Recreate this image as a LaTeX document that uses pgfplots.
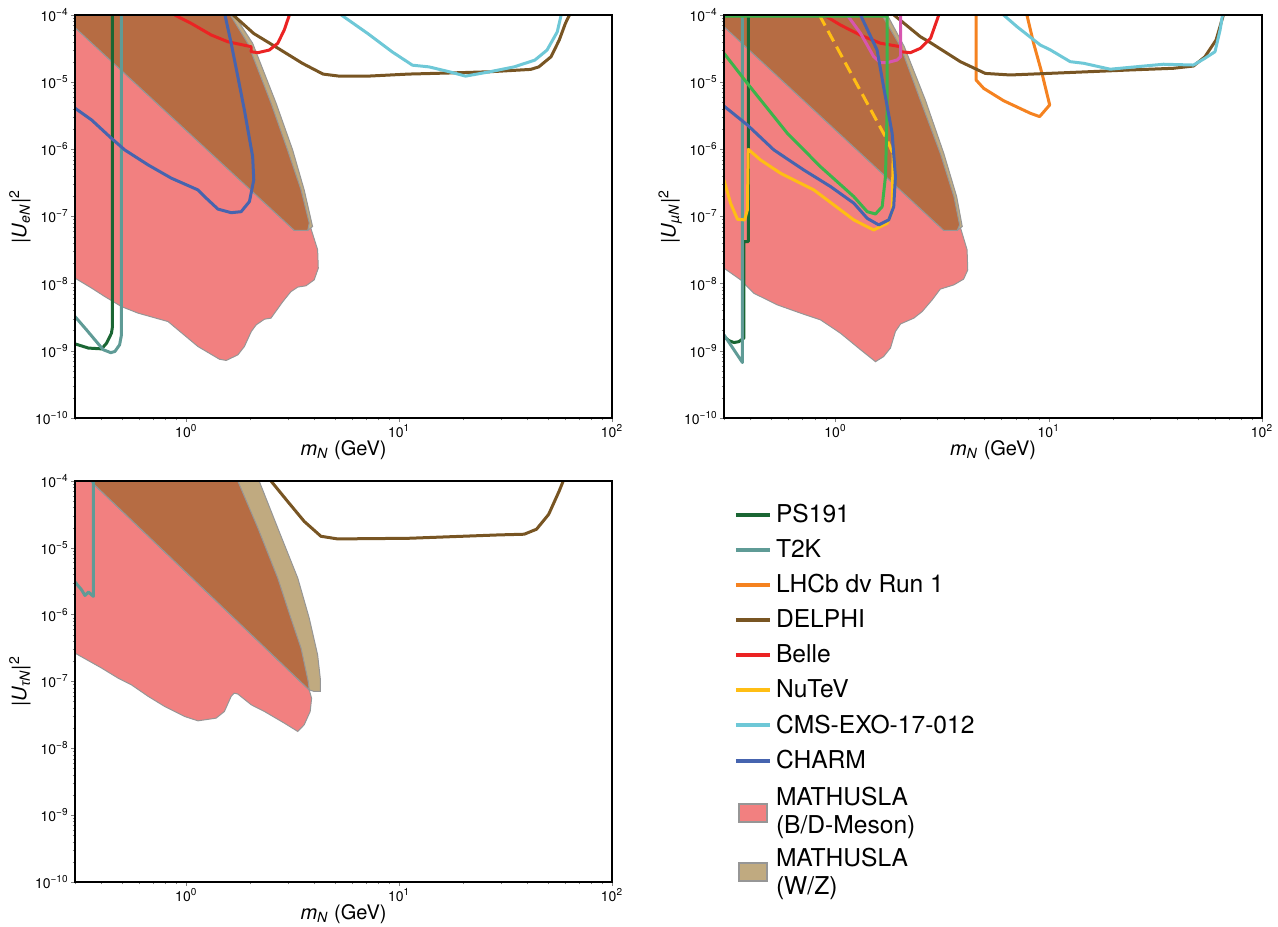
\documentclass[border=0pt]{standalone}
\usepackage{pgfplots}
\pgfplotsset{compat=1.18}
\usepackage{fontspec}
\setmainfont{TeX Gyre Heros}
\newfontfamily\gk{Liberation Sans}
\definecolor{ps191}{RGB}{26,102,51}
\definecolor{t2k}{RGB}{95,155,150}
\definecolor{lhcb}{RGB}{245,130,32}
\definecolor{delphi}{RGB}{120,85,35}
\definecolor{belle}{RGB}{235,35,35}
\definecolor{nutev}{RGB}{255,190,20}
\definecolor{cms}{RGB}{110,200,215}
\definecolor{charm}{RGB}{70,100,175}
\definecolor{grn}{RGB}{60,180,75}
\definecolor{mag}{RGB}{215,85,175}
\definecolor{bdpink}{RGB}{242,128,128}
\definecolor{wztan}{RGB}{192,170,128}
\definecolor{ovbrown}{RGB}{182,108,67}
\definecolor{edgegray}{RGB}{150,150,150}
\tikzset{
  myline/.style={line width=1.5pt, line join=round},
  legline/.style={line width=2pt},
  myshade/.style={draw=edgegray, line width=0.5pt},
}
\begin{document}
\begin{tikzpicture}
\useasboundingbox (0,0) rectangle (639pt,-463pt);
% ---------------- Panel 1: electron ----------------
\begin{axis}[xmode=log, ymode=log, xmin=0.3, xmax=100, ymin=1e-10, ymax=1e-4,
    scale only axis, width=268.5pt, height=201.5pt,
    axis on top, tick pos=left, tick align=outside,
    major tick length=2pt, minor tick length=1.2pt,
    axis line style={line width=0.6pt},
    xtick={1,10,100},
    xticklabels={10\textsuperscript{0},10\textsuperscript{1},10\textsuperscript{2}},
    minor xtick={0.3,0.4,0.5,0.6,0.7,0.8,0.9,2,3,4,5,6,7,8,9,20,30,40,50,60,70,80,90},
    ytick={1e-10,1e-9,1e-8,1e-7,1e-6,1e-5,1e-4},
    yticklabels={10\textsuperscript{−10},10\textsuperscript{−9},10\textsuperscript{−8},10\textsuperscript{−7},10\textsuperscript{−6},10\textsuperscript{−5},10\textsuperscript{−4}},
    minor ytick={2e-10,3e-10,4e-10,5e-10,6e-10,7e-10,8e-10,9e-10,2e-9,3e-9,4e-9,5e-9,6e-9,7e-9,8e-9,9e-9,2e-8,3e-8,4e-8,5e-8,6e-8,7e-8,8e-8,9e-8,2e-7,3e-7,4e-7,5e-7,6e-7,7e-7,8e-7,9e-7,2e-6,3e-6,4e-6,5e-6,6e-6,7e-6,8e-6,9e-6,2e-5,3e-5,4e-5,5e-5,6e-5,7e-5,8e-5,9e-5},
    tick label style={font=\fontsize{7}{8}\selectfont, inner sep=1pt},
    label style={font=\fontsize{10}{12}\selectfont},
    xlabel={\textit{m}\textsubscript{\textit{N}} (GeV)},
    xlabel style={at={(axis description cs:0.5,-0.079)}, anchor=center},
    ylabel style={at={(axis description cs:-0.1024,0.5)}, anchor=center},
    at={(37.5pt,-7.5pt)}, anchor=north west,
    ylabel={|\textit{U}\textsubscript{\textit{eN}}|\textsuperscript{2}}]
\addplot[myshade, fill=bdpink] coordinates {(0.3,1e-4) (1.61,1e-4) (1.945,3.8e-5) (2.50,4.9e-6) (2.99,9.8e-7) (3.46,2.49e-7) (3.78,8.0e-8) (4.14,3.2e-8) (4.17,1.70e-8) (3.99,1.14e-8) (3.65,9.3e-9) (3.34,8.9e-9) (3.10,7.6e-9) (2.84,5.4e-9) (2.50,3.07e-9) (2.33,2.96e-9) (2.13,2.44e-9) (2.02,1.94e-9) (1.875,1.16e-9) (1.746,8.7e-10) (1.54,7.2e-10) (1.432,7.5e-10) (1.134,1.16e-9) (0.821,2.73e-9) (0.594,3.64e-9) (0.496,4.56e-9) (0.414,6.43e-9) (0.359,8.6e-9) (0.3,1.21e-8)} -- cycle;
\addplot[myshade, fill=wztan] coordinates {(1.68,1e-4) (2.05,3.8e-5) (2.64,4.9e-6) (3.16,9.8e-7) (3.58,2.49e-7) (3.92,7.1e-8) (3.72,6.2e-8) (3.22,6.2e-8) (0.3,6.5e-5) (0.3,1e-4)} -- cycle;
\addplot[myshade, fill=ovbrown] coordinates {(0.3,1e-4) (1.61,1e-4) (1.945,3.8e-5) (2.50,4.9e-6) (2.99,9.8e-7) (3.46,2.49e-7) (3.78,8.0e-8) (3.72,6.2e-8) (3.22,6.2e-8) (0.3,6.5e-5)} -- cycle;
\addplot[myline, ps191] coordinates {(0.3,1.27e-9) (0.347,1.10e-9) (0.400,1.07e-9) (0.422,1.30e-9) (0.445,1.83e-9) (0.450,2.30e-9) (0.450,1e-4)};
\addplot[myline, t2k] coordinates {(0.3,3.24e-9) (0.340,2.05e-9) (0.372,1.46e-9) (0.407,1.04e-9) (0.442,9.4e-10) (0.462,9.8e-10) (0.486,1.23e-9) (0.496,1.73e-9) (0.496,1e-4)};
\addplot[myline, delphi] coordinates {(1.66,1e-4) (2.075,5.3e-5) (2.70,3.19e-5) (3.52,1.90e-5) (4.39,1.32e-5) (5.23,1.23e-5) (7.12,1.23e-5) (11.06,1.32e-5) (17.2,1.37e-5) (26.7,1.43e-5) (41.5,1.55e-5) (45.3,1.69e-5) (51.7,2.39e-5) (56.5,4.23e-5) (60.4,7.5e-5) (63.1,1e-4)};
\addplot[myline, belle] coordinates {(0.882,1e-4) (1.055,7.5e-5) (1.31,5.04e-5) (1.567,4.0e-5) (1.945,3.46e-5) (2.016,3.37e-5) (2.016,2.84e-5) (2.17,2.75e-5) (2.455,3.01e-5) (2.69,3.8e-5) (2.885,5.98e-5) (3.05,1e-4)};
\addplot[myline, cms] coordinates {(5.35,1e-4) (7.12,5.3e-5) (9.27,2.83e-5) (11.55,1.79e-5) (13.8,1.69e-5) (17.2,1.43e-5) (20.5,1.23e-5) (26.7,1.43e-5) (34.7,1.69e-5) (43.4,2.13e-5) (49.5,3.0e-5) (55.3,5.6e-5) (57.7,1e-4)};
\addplot[myline, charm] coordinates {(0.3,4.1e-6) (0.359,2.74e-6) (0.445,1.46e-6) (0.514,9.8e-7) (0.662,5.86e-7) (0.851,3.72e-7) (1.134,2.49e-7) (1.218,1.98e-7) (1.408,1.29e-7) (1.625,1.14e-7) (1.81,1.18e-7) (1.98,1.67e-7) (2.075,3.51e-7) (2.05,7.8e-7) (1.875,3.85e-6) (1.746,1.21e-5) (1.625,3.8e-5) (1.52,1e-4)};
\end{axis}
% ---------------- Panel 2: muon ----------------
\begin{axis}[xmode=log, ymode=log, xmin=0.3, xmax=100, ymin=1e-10, ymax=1e-4,
    scale only axis, width=269pt, height=201.5pt,
    axis on top, tick pos=left, tick align=outside,
    major tick length=2pt, minor tick length=1.2pt,
    axis line style={line width=0.6pt},
    xtick={1,10,100},
    xticklabels={10\textsuperscript{0},10\textsuperscript{1},10\textsuperscript{2}},
    minor xtick={0.3,0.4,0.5,0.6,0.7,0.8,0.9,2,3,4,5,6,7,8,9,20,30,40,50,60,70,80,90},
    ytick={1e-10,1e-9,1e-8,1e-7,1e-6,1e-5,1e-4},
    yticklabels={10\textsuperscript{−10},10\textsuperscript{−9},10\textsuperscript{−8},10\textsuperscript{−7},10\textsuperscript{−6},10\textsuperscript{−5},10\textsuperscript{−4}},
    minor ytick={2e-10,3e-10,4e-10,5e-10,6e-10,7e-10,8e-10,9e-10,2e-9,3e-9,4e-9,5e-9,6e-9,7e-9,8e-9,9e-9,2e-8,3e-8,4e-8,5e-8,6e-8,7e-8,8e-8,9e-8,2e-7,3e-7,4e-7,5e-7,6e-7,7e-7,8e-7,9e-7,2e-6,3e-6,4e-6,5e-6,6e-6,7e-6,8e-6,9e-6,2e-5,3e-5,4e-5,5e-5,6e-5,7e-5,8e-5,9e-5},
    tick label style={font=\fontsize{7}{8}\selectfont, inner sep=1pt},
    label style={font=\fontsize{10}{12}\selectfont},
    xlabel={\textit{m}\textsubscript{\textit{N}} (GeV)},
    xlabel style={at={(axis description cs:0.5,-0.079)}, anchor=center},
    ylabel style={at={(axis description cs:-0.1,0.5)}, anchor=center},
    at={(362pt,-7.5pt)}, anchor=north west,
    ylabel={|\textit{U}\textsubscript{\textit{µN}}|\textsuperscript{2}}]
\addplot[myshade, fill=bdpink] coordinates {(0.3,1e-4) (1.65,1e-4) (2.02,3.37e-5) (2.50,5.4e-6) (3.10,8.7e-7) (3.59,1.98e-7) (3.82,7.5e-8) (4.14,3.2e-8) (4.17,1.60e-8) (3.99,1.17e-8) (3.59,9.6e-9) (3.10,8.3e-9) (2.84,5.74e-9) (2.55,3.85e-9) (2.33,3.07e-9) (2.02,2.52e-9) (1.91,1.94e-9) (1.81,1.10e-9) (1.68,8.2e-10) (1.54,6.9e-10) (1.31,1.04e-9) (1.055,1.83e-9) (0.851,2.89e-9) (0.686,3.64e-9) (0.533,4.84e-9) (0.414,7.2e-9) (0.359,1.14e-8) (0.3,1.70e-8)} -- cycle;
\addplot[myshade, fill=wztan] coordinates {(1.75,1e-4) (2.10,3.4e-5) (2.64,5.4e-6) (3.22,8.7e-7) (3.70,1.98e-7) (3.93,7.1e-8) (3.72,6.2e-8) (3.22,6.2e-8) (0.3,6.7e-5) (0.3,1e-4)} -- cycle;
\addplot[myshade, fill=ovbrown] coordinates {(0.3,1e-4) (1.65,1e-4) (2.02,3.37e-5) (2.50,5.4e-6) (3.10,8.7e-7) (3.59,1.98e-7) (3.82,7.5e-8) (3.72,6.2e-8) (3.22,6.2e-8) (0.3,6.7e-5)} -- cycle;
\addplot[myline, ps191] coordinates {(0.3,1.63e-9) (0.316,1.42e-9) (0.334,1.33e-9) (0.352,1.37e-9) (0.372,1.55e-9) (0.372,4.24e-8) (0.390,4.24e-8) (0.390,1e-4)};
\addplot[myline, t2k] coordinates {(0.3,1.73e-9) (0.366,6.7e-10) (0.366,1e-4)};
\addplot[myline, lhcb] coordinates {(4.56,1e-4) (4.56,1.08e-5) (4.95,8.1e-6) (6.14,5.3e-6) (8.19,3.45e-6) (9.06,3.07e-6) (10.1,4.58e-6) (9.29,1.36e-5) (8.49,3.8e-5) (7.9,1e-4)};
\addplot[myline, delphi] coordinates {(1.88,1e-4) (2.50,4.75e-5) (2.79,3.87e-5) (3.85,2.02e-5) (5.04,1.35e-5) (6.6,1.28e-5) (11.7,1.38e-5) (24.1,1.52e-5) (38.4,1.61e-5) (47.7,1.74e-5) (54,2.39e-5) (60.9,4.25e-5) (65.9,1e-4)};
\addplot[myline, belle] coordinates {(0.882,1e-4) (1.055,7.1e-5) (1.31,5.0e-5) (1.625,3.8e-5) (2.02,3.37e-5) (2.02,2.84e-5) (2.245,2.75e-5) (2.50,3.19e-5) (2.79,4.5e-5) (3.05,1e-4)};
\addplot[myline, mag] coordinates {(1.134,1e-4) (1.31,5.35e-5) (1.51,2.40e-5) (1.625,1.95e-5) (1.746,1.95e-5) (1.945,2.14e-5) (2.02,2.40e-5) (2.02,1e-4)};
\addplot[myline, nutev] coordinates {(0.3,3.5e-7) (0.322,1.58e-7) (0.347,9.1e-8) (0.375,8.9e-8) (0.386,1.25e-7) (0.390,1.0e-6) (0.445,6.95e-7) (0.553,4.4e-7) (0.791,2.49e-7) (0.982,1.49e-7) (1.218,8.9e-8) (1.51,6.3e-8) (1.746,7.9e-8) (1.843,1.18e-7) (1.864,8.7e-7)};
\addplot[myline, nutev, dash pattern=on 6pt off 3pt] coordinates {(0.84,1e-4) (1.746,1.38e-6) (1.85,9e-7)};
\addplot[myline, cms] coordinates {(6.14,1e-4) (7.10,6.7e-5) (9.12,3.58e-5) (10.2,3.01e-5) (12.6,2.02e-5) (14.6,1.91e-5) (19.4,1.56e-5) (25.9,1.70e-5) (34.5,1.85e-5) (47.7,1.80e-5) (54.0,2.27e-5) (60.2,2.84e-5) (63.6,6.0e-5) (65.3,1e-4)};
\addplot[myline, grn] coordinates {(0.3,2.69e-5) (0.386,9.6e-6) (0.594,1.74e-6) (0.851,5.5e-7) (1.218,1.98e-7) (1.408,1.18e-7) (1.54,1.09e-7) (1.655,1.40e-7) (1.715,3.93e-7) (1.746,3.85e-6) (1.746,9.6e-5) (0.3,9.6e-5)};
\addplot[myline, charm] coordinates {(0.3,4.4e-6) (0.386,2.31e-6) (0.514,9.8e-7) (0.710,4.93e-7) (0.948,2.79e-7) (1.218,1.58e-7) (1.408,9.4e-8) (1.595,7.5e-8) (1.777,8.9e-8) (1.875,1.40e-7) (1.91,3.93e-7) (1.843,1.74e-6) (1.68,8.6e-6) (1.567,3.0e-5) (1.31,1e-4)};
\end{axis}
% ---------------- Panel 3: tau ----------------
\begin{axis}[xmode=log, ymode=log, xmin=0.3, xmax=100, ymin=1e-10, ymax=1e-4,
    scale only axis, width=268.5pt, height=200.5pt,
    axis on top, tick pos=left, tick align=outside,
    major tick length=2pt, minor tick length=1.2pt,
    axis line style={line width=0.6pt},
    xtick={1,10,100},
    xticklabels={10\textsuperscript{0},10\textsuperscript{1},10\textsuperscript{2}},
    minor xtick={0.3,0.4,0.5,0.6,0.7,0.8,0.9,2,3,4,5,6,7,8,9,20,30,40,50,60,70,80,90},
    ytick={1e-10,1e-9,1e-8,1e-7,1e-6,1e-5,1e-4},
    yticklabels={10\textsuperscript{−10},10\textsuperscript{−9},10\textsuperscript{−8},10\textsuperscript{−7},10\textsuperscript{−6},10\textsuperscript{−5},10\textsuperscript{−4}},
    minor ytick={2e-10,3e-10,4e-10,5e-10,6e-10,7e-10,8e-10,9e-10,2e-9,3e-9,4e-9,5e-9,6e-9,7e-9,8e-9,9e-9,2e-8,3e-8,4e-8,5e-8,6e-8,7e-8,8e-8,9e-8,2e-7,3e-7,4e-7,5e-7,6e-7,7e-7,8e-7,9e-7,2e-6,3e-6,4e-6,5e-6,6e-6,7e-6,8e-6,9e-6,2e-5,3e-5,4e-5,5e-5,6e-5,7e-5,8e-5,9e-5},
    tick label style={font=\fontsize{7}{8}\selectfont, inner sep=1pt},
    label style={font=\fontsize{10}{12}\selectfont},
    xlabel={\textit{m}\textsubscript{\textit{N}} (GeV)},
    xlabel style={at={(axis description cs:0.5,-0.08)}, anchor=center},
    ylabel style={at={(axis description cs:-0.1024,0.5)}, anchor=center},
    at={(37.5pt,-240.5pt)}, anchor=north west,
    ylabel={|\textit{U}\textsubscript{{\gk\itshape τ}\textit{N}}|\textsuperscript{2}},
    legend style={at={(1.215,0.963)}, anchor=north west, draw=none, fill=none,
      font=\fontsize{12.3}{14}\selectfont, row sep=3pt},
    legend cell align=left]
\addplot[myshade, fill=bdpink, forget plot] coordinates {(0.3,1e-4) (0.355,1e-4) (3.78,7.5e-8) (3.88,5.6e-8) (3.82,3.56e-8) (3.58,2.25e-8) (3.34,1.79e-8) (2.89,2.38e-8) (2.33,3.56e-8) (2.02,4.48e-8) (1.746,6.5e-8) (1.68,6.7e-8) (1.625,6.0e-8) (1.51,3.56e-8) (1.38,2.83e-8) (1.134,2.58e-8) (0.982,3.0e-8) (0.791,4.24e-8) (0.662,6.0e-8) (0.553,8.9e-8) (0.479,1.12e-7) (0.400,1.59e-7) (0.3,2.66e-7)} -- cycle;
\addplot[myshade, fill=wztan, forget plot] coordinates {(0.355,1e-4) (2.20,1e-4) (2.69,1.98e-5) (3.34,3.53e-6) (3.78,8.9e-7) (4.14,2.51e-7) (4.26,1.12e-7) (4.26,7.1e-8) (3.99,7.1e-8) (3.78,7.5e-8)} -- cycle;
\addplot[myshade, fill=ovbrown, forget plot] coordinates {(0.355,1e-4) (1.746,1e-4) (2.17,1.98e-5) (2.69,3.53e-6) (3.10,8.9e-7) (3.46,3.16e-7) (3.74,1.0e-7) (3.78,7.5e-8)} -- cycle;
\addplot[myline, t2k, forget plot] coordinates {(0.3,3.08e-6) (0.322,2.36e-6) (0.334,1.94e-6) (0.347,2.18e-6) (0.366,1.88e-6) (0.366,1e-4)};
\addplot[myline, delphi, forget plot] coordinates {(2.50,1e-4) (2.99,4.97e-5) (3.58,2.49e-5) (4.29,1.49e-5) (5.14,1.36e-5) (11.06,1.39e-5) (29.1,1.56e-5) (38.7,1.60e-5) (44.2,1.90e-5) (50.4,3.17e-5) (56.5,7.1e-5) (59,1e-4)};
\addlegendimage{legline, ps191}\addlegendentry{PS191}
\addlegendimage{legline, t2k}\addlegendentry{T2K}
\addlegendimage{legline, lhcb}\addlegendentry{LHCb dv Run 1}
\addlegendimage{legline, delphi}\addlegendentry{DELPHI}
\addlegendimage{legline, belle}\addlegendentry{Belle}
\addlegendimage{legline, nutev}\addlegendentry{NuTeV}
\addlegendimage{legline, cms}\addlegendentry{CMS-EXO-17-012}
\addlegendimage{legline, charm}\addlegendentry{CHARM}
\addlegendimage{legend image code/.code={\draw[fill=bdpink, draw=edgegray, line width=0.8pt] (0.05cm,-0.16cm-4.5pt) rectangle (0.55cm,0.16cm-4.5pt);}}
\addlegendentry{\raisebox{0pt}[\height][\dimexpr\depth+4.5pt\relax]{\begin{tabular}[c]{@{}l@{}}MATHUSLA\\(B/D-Meson)\end{tabular}}}
\addlegendimage{legend image code/.code={\draw[fill=wztan, draw=edgegray, line width=0.8pt] (0.05cm,-0.16cm-7.25pt) rectangle (0.55cm,0.16cm-7.25pt);}}
\addlegendentry{\begin{tabular}[c]{@{}l@{}}\rule{0pt}{14.8pt}MATHUSLA\\(W/Z)\end{tabular}}
\end{axis}
\end{tikzpicture}
\end{document}
